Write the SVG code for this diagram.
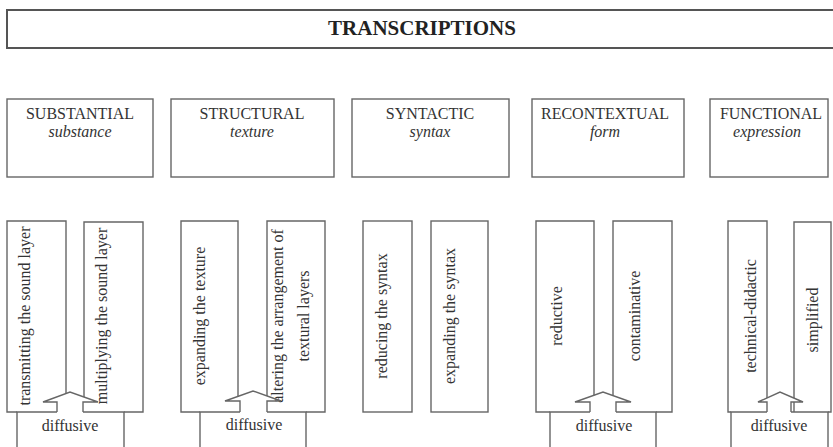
<svg xmlns="http://www.w3.org/2000/svg" width="833" height="447" viewBox="0 0 833 447">
<style>
  .box { fill: #fff; stroke: #666; stroke-width: 1.4; }
  .line { fill: none; stroke: #666; stroke-width: 1.4; stroke-linejoin: miter; }
  .title-box { fill: #fff; stroke: #555; stroke-width: 2; }
  .t { font-family: "Liberation Serif", "Times New Roman", serif; font-size: 16px; fill: #333; }
  .title { font-family: "Liberation Serif", "Times New Roman", serif; font-size: 21px; font-weight: bold; fill: #222; }
  .it { font-style: italic; }
</style>
<rect width="833" height="447" fill="#fff"/>

<g id="transcriptions">
  <rect class="title-box" x="7" y="10" width="840" height="38"/>
  <text class="title" x="422" y="35" text-anchor="middle">TRANSCRIPTIONS</text>
</g>

<g id="substantial">
  <rect class="box" x="7" y="99" width="146" height="78"/>
  <text class="t" x="80" y="119" text-anchor="middle">SUBSTANTIAL</text>
  <text class="t it" x="80" y="137" text-anchor="middle">substance</text>
</g>
<g id="structural">
  <rect class="box" x="171" y="99" width="163" height="78"/>
  <text class="t" x="252" y="119" text-anchor="middle">STRUCTURAL</text>
  <text class="t it" x="252" y="137" text-anchor="middle">texture</text>
</g>
<g id="syntactic">
  <rect class="box" x="352" y="99" width="157" height="78"/>
  <text class="t" x="430" y="119" text-anchor="middle">SYNTACTIC</text>
  <text class="t it" x="430" y="137" text-anchor="middle">syntax</text>
</g>
<g id="recontextual">
  <rect class="box" x="532" y="99" width="152" height="78"/>
  <text class="t" x="605" y="119" text-anchor="middle">RECONTEXTUAL</text>
  <text class="t it" x="605" y="137" text-anchor="middle">form</text>
</g>
<g id="functional">
  <rect class="box" x="710" y="99" width="118" height="78"/>
  <text class="t" x="771" y="119" text-anchor="middle">FUNCTIONAL</text>
  <text class="t it" x="767" y="137" text-anchor="middle">expression</text>
</g>

<!-- substantial sub-boxes -->
<g id="transmitting">
  <path class="line" d="M17,412 H7 V221 H66 V393.5"/>
  <text class="t" transform="translate(30,316) rotate(-90)" text-anchor="middle">transmitting the sound layer</text>
</g>
<g id="multiplying">
  <path class="line" d="M84,397 V222 H143 V412 H124"/>
  <text class="t" transform="translate(107,316) rotate(-90)" text-anchor="middle">multiplying the sound layer</text>
</g>
<g id="diffusive-1">
  <path class="line" d="M17,460 V412 H57 M83,412 H124 V460"/>
  <text class="t" x="70" y="431" text-anchor="middle">diffusive</text>
</g>

<!-- structural sub-boxes -->
<g id="expanding-texture">
  <path class="line" d="M200,412 H181 V221 H238 V396.4"/>
  <text class="t" transform="translate(205,316) rotate(-90)" text-anchor="middle">expanding the texture</text>
</g>
<g id="altering">
  <path class="line" d="M267,396 V221 H325 V412 H306"/>
  <text class="t" transform="translate(283,316) rotate(-90)" text-anchor="middle">altering the arrangement of</text>
  <text class="t" transform="translate(309,316) rotate(-90)" text-anchor="middle">textural layers</text>
</g>
<g id="diffusive-2">
  <path class="line" d="M200,460 V412 H240 M267,412 H306 V460"/>
  <text class="t" x="254" y="430" text-anchor="middle">diffusive</text>
</g>

<!-- syntactic sub-boxes -->
<g id="reducing-syntax">
  <rect class="box" x="363" y="221" width="49" height="191"/>
  <text class="t" transform="translate(387,316) rotate(-90)" text-anchor="middle">reducing the syntax</text>
</g>
<g id="expanding-syntax">
  <rect class="box" x="431" y="221" width="57" height="191"/>
  <text class="t" transform="translate(455,316) rotate(-90)" text-anchor="middle">expanding the syntax</text>
</g>

<!-- recontextual sub-boxes -->
<g id="reductive">
  <path class="line" d="M550,412 H536 V221 H594 V395.2"/>
  <text class="t" transform="translate(562,316) rotate(-90)" text-anchor="middle">reductive</text>
</g>
<g id="contaminative">
  <path class="line" d="M613,395.6 V221 H672 V412 H656"/>
  <text class="t" transform="translate(640,316) rotate(-90)" text-anchor="middle">contaminative</text>
</g>
<g id="diffusive-3">
  <path class="line" d="M550,460 V412 H590 M616,412 H656 V460"/>
  <text class="t" x="604" y="431" text-anchor="middle">diffusive</text>
</g>

<!-- functional sub-boxes -->
<g id="technical-didactic">
  <path class="line" d="M731,412 H728 V221 H767 V397.9"/>
  <text class="t" transform="translate(756,316) rotate(-90)" text-anchor="middle">technical-didactic</text>
</g>
<g id="simplified">
  <path class="line" d="M794,398.1 V222 H831 V412 H828 M794,402 V412"/>
  <text class="t" transform="translate(818,320) rotate(-90)" text-anchor="middle">simplified</text>
</g>
<g id="diffusive-4">
  <path class="line" d="M731,460 V412 H767 M791,412 H828 V460"/>
  <text class="t" x="779" y="431" text-anchor="middle">diffusive</text>
</g>

<g id="connectors">
  <path class="line" d="M57,412 V402 H43 L70,392 L98,402 H83 V412"/>
  <path class="line" d="M240,412 V401 H225 L253,391 L281,401 H267 V412"/>
  <path class="line" d="M590,412 V402 H575 L603,392 L631,402 H616 V412"/>
  <path class="line" d="M767,412 V402 H758 L780,392 L803,402 H791 V412"/>
</g>
</svg>
